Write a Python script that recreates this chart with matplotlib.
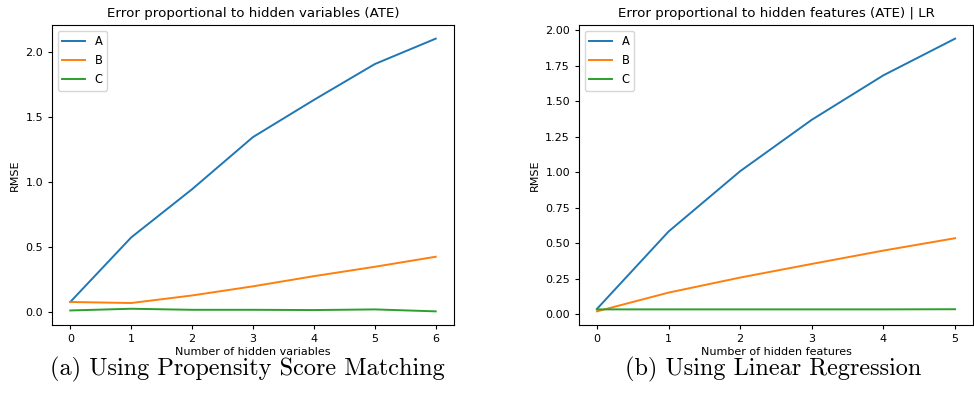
import matplotlib
matplotlib.use("Agg")
import matplotlib.pyplot as plt

# left panel: propensity score matching
x_psm = [0, 1, 2, 3, 4, 5, 6]
psm_a = [0.08, 0.575, 0.945, 1.345, 1.63, 1.905, 2.10]
psm_b = [0.08, 0.072, 0.13, 0.20, 0.278, 0.35, 0.427]
psm_c = [0.015, 0.028, 0.02, 0.02, 0.018, 0.023, 0.008]

# right panel: linear regression
x_lr = [0, 1, 2, 3, 4, 5]
lr_a = [0.038, 0.583, 1.008, 1.37, 1.683, 1.941]
lr_b = [0.021, 0.153, 0.259, 0.355, 0.449, 0.536]
lr_c = [0.035, 0.035, 0.035, 0.035, 0.035, 0.036]

labels = ["A", "B", "C"]

fig = plt.figure(figsize=(9.74, 4.11), dpi=100)
ax1 = fig.add_axes([52 / 974, 1 - 325 / 411, 402 / 974, 300 / 411])
ax2 = fig.add_axes([579 / 974, 1 - 325 / 411, 394 / 974, 300 / 411])

for ys, lab in zip([psm_a, psm_b, psm_c], labels):
    ax1.plot(x_psm, ys, label=lab, lw=1.4)
for ys, lab in zip([lr_a, lr_b, lr_c], labels):
    ax2.plot(x_lr, ys, label=lab, lw=1.4)

ax1.set_title("Error proportional to hidden variables (ATE)", fontsize=9.6)
ax1.set_xlabel("Number of hidden variables", fontsize=8, labelpad=2)
ax1.set_ylabel("RMSE", fontsize=8)
ax2.set_title("Error proportional to hidden features (ATE) | LR", fontsize=9.6)
ax2.set_xlabel("Number of hidden features", fontsize=8, labelpad=2)
ax2.set_ylabel("RMSE", fontsize=8)

ax1.set_yticks([0.0, 0.5, 1.0, 1.5, 2.0])
ax2.set_yticks([0.0, 0.25, 0.5, 0.75, 1.0, 1.25, 1.5, 1.75, 2.0])
ax2.yaxis.set_major_formatter(matplotlib.ticker.FormatStrFormatter("%.2f"))

for ax in (ax1, ax2):
    ax.tick_params(labelsize=8, length=3)
    ax.legend(loc="upper left", fontsize=8.3)

fig.text(247 / 974, 1 - 369 / 411, "(a) Using Propensity Score Matching",
         family="cmr10", fontsize=17.5, ha="center", va="center")
fig.text(773 / 974, 1 - 369 / 411, "(b) Using Linear Regression",
         family="cmr10", fontsize=17.5, ha="center", va="center")

fig.savefig("out.png", dpi=100)
